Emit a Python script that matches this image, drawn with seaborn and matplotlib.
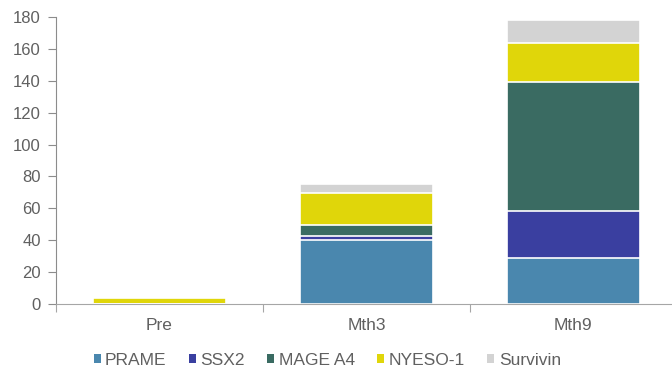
import numpy as np
import pandas as pd
import matplotlib
matplotlib.use("Agg")
import matplotlib.pyplot as plt
import seaborn as sns
from matplotlib.patches import Patch
from matplotlib.ticker import FixedLocator

# Values
timepoints = ["Pre", "Mth3", "Mth9"]
prame = [0, 40, 29]
ssx2 = [0, 2.5, 29]
mage_a4 = [0, 7, 81.5]
nyeso1 = [3.5, 20, 24]
survivin = [0, 6, 14.5]

series_names = ["PRAME", "SSX2", "MAGE A4", "NYESO-1", "Survivin"]
series_colors = ["#4A87AE", "#3A3FA0", "#3A6B62", "#E0D60A", "#D3D3D3"]

data = pd.DataFrame({"PRAME": prame, "SSX2": ssx2, "MAGE A4": mage_a4,
                     "NYESO-1": nyeso1, "Survivin": survivin}, index=timepoints)
cum = data.cumsum(axis=1)

sns.set_style("white")
plt.rcParams['font.family'] = ['Liberation Sans', 'DejaVu Sans']

fig = plt.figure(figsize=(6.72, 3.78), dpi=100)
ax = fig.add_axes([0.0833, 0.196, 0.924, 0.759])

# draw cumulative totals from top segment down so lower segments sit on top
for name, color in reversed(list(zip(series_names, series_colors))):
    sns.barplot(x=timepoints, y=cum[name].values, color=color, width=0.64,
                edgecolor="white", linewidth=1.2, ax=ax, saturation=1)

ax.set_ylim(0, 180)
ax.set_xlim(-0.5, 2.5)
ax.set_yticks(np.arange(0, 181, 20))
ax.tick_params(axis="y", colors="#8c8c8c", labelcolor="#606060", labelsize=12,
               length=6, width=0.8, direction="out", left=True, pad=5)
ax.tick_params(axis="x", which="major", length=0, labelcolor="#606060",
               labelsize=12.5, pad=10)
ax.xaxis.set_minor_locator(FixedLocator([-0.5, 0.5, 1.5, 2.5]))
ax.tick_params(axis="x", which="minor", length=6, width=0.8, color="#a6a6a6",
               direction="out", bottom=True)
for side in ["top", "right"]:
    ax.spines[side].set_visible(False)
ax.spines["left"].set_color("#8c8c8c")
ax.spines["bottom"].set_color("#a6a6a6")
ax.set_xlabel("")
ax.set_ylabel("")

handles = [Patch(facecolor=c, edgecolor="none", label=n)
           for n, c in zip(series_names, series_colors)]
fig.legend(handles=handles, loc="center", ncol=5, frameon=False,
           bbox_to_anchor=(0.487, 0.047), fontsize=12.5, handlelength=0.4,
           handleheight=0.4, handletextpad=0.25, columnspacing=1.3,
           labelcolor="#606060")

fig.savefig("out.png", dpi=100)
